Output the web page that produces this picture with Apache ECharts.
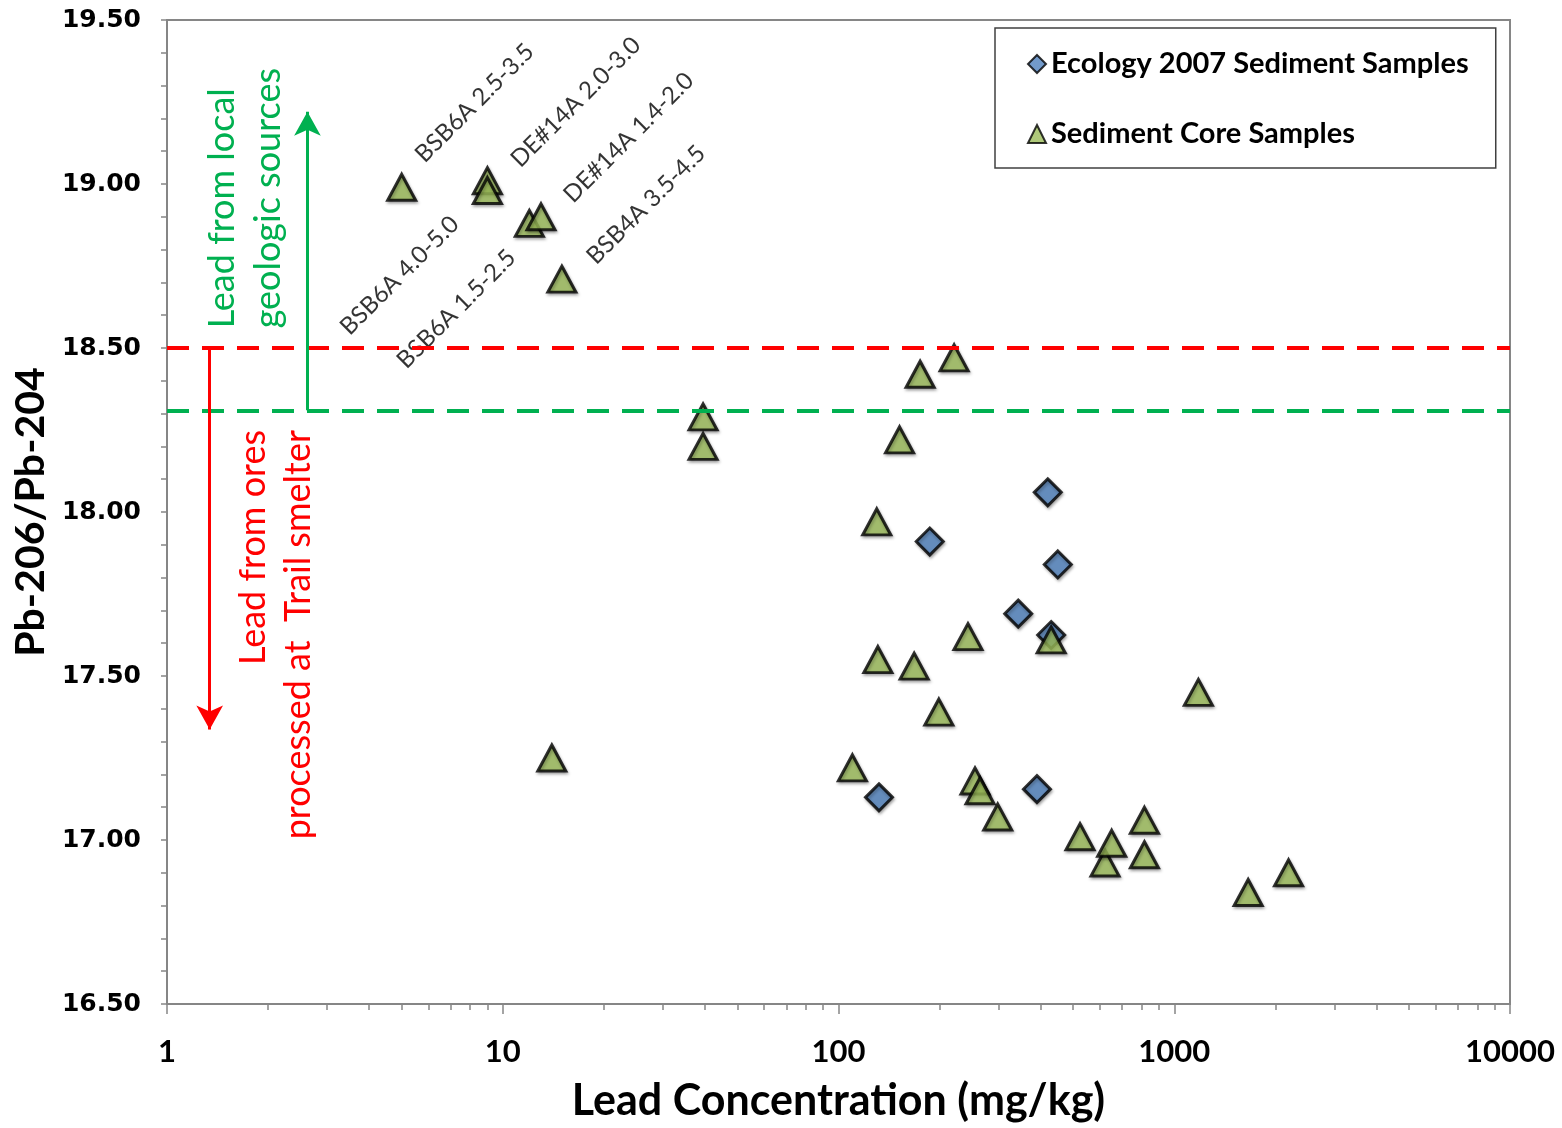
<!DOCTYPE html>
<html>
<head>
<meta charset="utf-8">
<title>Pb-206/Pb-204 vs Lead Concentration</title>
<script src="https://cdn.jsdelivr.net/npm/echarts@6/dist/echarts.min.js"></script>
<style>
  html, body { margin: 0; padding: 0; background: #ffffff; overflow: hidden; }
  #chart { width: 1562px; height: 1128px; }
</style>
</head>
<body>
<div id="chart"></div>
<script>
// Ecology 2007 sediment samples: lead (mg/kg) and Pb-206/Pb-204
const ecologyConc  = [132, 187, 343, 390, 420, 430, 450];
const ecologyRatio = [17.13, 17.91, 17.69, 17.155, 18.06, 17.625, 17.84];

// Sediment core samples: lead (mg/kg) and Pb-206/Pb-204
const coreConc  = [5, 9, 9, 12, 13, 15, 14, 39.5, 39.5, 110, 130, 131, 152, 168, 175,
                   199, 221, 243, 255, 264, 298, 430, 524, 622, 651, 815, 815, 1180, 1660, 2190];
const coreRatio = [18.99, 19.01, 18.98, 18.88, 18.90, 18.71, 17.25, 18.29, 18.20, 17.22, 17.97, 17.55, 18.22, 17.53, 18.42,
                   17.39, 18.47, 17.62, 17.18, 17.15, 17.07, 17.61, 17.01, 16.93, 16.99, 17.06, 16.955, 17.45, 16.84, 16.90];
// core/depth names for the first six core samples
const coreNames = ['BSB6A 2.5-3.5', 'DE#14A 2.0-3.0', 'BSB6A 4.0-5.0', 'BSB6A 1.5-2.5', 'DE#14A 1.4-2.0', 'BSB4A 3.5-4.5'];

// axis ranges
const ratioMin = 16.5, ratioMax = 19.5, ratioStep = 0.5;
const concMin = 1, concMax = 10000;

// source thresholds
const smelterMax = 18.5;
const localMin = 18.31;

const seriesNames = ['Ecology 2007 Sediment Samples', 'Sediment Core Samples'];

// ---- styling ----
const AXIS = '#868686';
const RED = '#ff0000';
const GREEN = '#00b050';
const BOLDFACE = "Lato, Carlito, Calibri, 'Noto Sans', sans-serif";
const HUMANIST = "Lato, Carlito, Calibri, 'Open Sans', sans-serif";

// label direction/offset (rotated frame) for the named core samples
const labelPlacement = [
  { align: 'left',  offset: [33, -8] },
  { align: 'left',  offset: [32, 7] },
  { align: 'right', offset: [-44, -2] },
  { align: 'right', offset: [-34, 9] },
  { align: 'left',  offset: [32, 6] },
  { align: 'left',  offset: [34, 7] }
];

const markerShadow = { shadowBlur: 3, shadowColor: 'rgba(0,0,0,0.35)', shadowOffsetX: 1, shadowOffsetY: 2 };

const ecologyData = ecologyConc.map((x, i) => [x, ecologyRatio[i]]);
const coreData = coreConc.map((x, i) => {
  const item = { value: [x, coreRatio[i]] };
  if (coreNames[i]) {
    item.label = {
      show: true,
      formatter: coreNames[i],
      position: 'inside',
      rotate: 45,
      align: labelPlacement[i].align,
      verticalAlign: 'middle',
      offset: labelPlacement[i].offset,
      fontFamily: HUMANIST,
      fontSize: 24,
      color: '#000'
    };
  }
  return item;
});

const chart = echarts.init(document.getElementById('chart'), null, { renderer: 'canvas' });

chart.setOption({
  animation: false,
  backgroundColor: '#ffffff',
  grid: {
    left: 167, top: 20, right: 52, bottom: 123,
    show: true, borderColor: AXIS, borderWidth: 2, backgroundColor: 'transparent'
  },
  legend: {
    orient: 'vertical',
    left: 995, top: 28,
    padding: [18, 27, 16, 32],
    itemGap: 34,
    itemWidth: 18, itemHeight: 18,
    backgroundColor: '#ffffff',
    borderColor: '#404040', borderWidth: 1.5,
    textStyle: { fontFamily: BOLDFACE, fontWeight: 'bold', fontSize: 29, color: '#000', lineHeight: 36 },
    data: [
      { name: seriesNames[0], icon: 'diamond', itemStyle: { borderWidth: 2 } },
      { name: seriesNames[1], icon: 'triangle', itemStyle: { borderWidth: 2 } }
    ]
  },
  xAxis: {
    type: 'log', logBase: 10, min: concMin, max: concMax,
    axisLine: { show: true, onZero: false, lineStyle: { color: AXIS, width: 2 } },
    axisTick: { show: true, length: 10, lineStyle: { color: AXIS, width: 1.5 } },
    minorTick: { show: true, splitNumber: 9, length: 6, lineStyle: { color: AXIS, width: 1.5 } },
    splitLine: { show: false },
    minorSplitLine: { show: false },
    axisLabel: {
      margin: 32, formatter: v => String(v),
      fontFamily: BOLDFACE, fontWeight: 'bold', fontSize: 31, color: '#000'
    },
    name: 'Lead Concentration (mg/kg)',
    nameLocation: 'middle', nameGap: 76,
    nameTextStyle: { fontFamily: BOLDFACE, fontWeight: 'bold', fontSize: 43, color: '#000' }
  },
  yAxis: {
    type: 'value', min: ratioMin, max: ratioMax, interval: ratioStep,
    axisLine: { show: true, onZero: false, lineStyle: { color: AXIS, width: 2 } },
    axisTick: { show: true, length: 6, lineStyle: { color: AXIS, width: 1.5 } },
    minorTick: { show: true, splitNumber: 5, length: 6, lineStyle: { color: AXIS, width: 1.5 } },
    splitLine: { show: false },
    axisLabel: {
      margin: 26, formatter: v => v.toFixed(2),
      fontFamily: "'DejaVu Sans', Verdana, sans-serif", fontWeight: 'bold', fontSize: 25, color: '#000'
    },
    name: 'Pb-206/Pb-204',
    nameLocation: 'middle', nameGap: 112,
    nameTextStyle: { fontFamily: BOLDFACE, fontWeight: 'bold', fontSize: 41, color: '#000' }
  },
  series: [
    {
      name: seriesNames[0],
      type: 'scatter',
      symbol: 'diamond',
      symbolSize: [27, 27],
      itemStyle: Object.assign({ color: '#4f81bd', borderColor: '#000', borderWidth: 3 }, markerShadow),
      data: ecologyData,
      z: 3
    },
    {
      name: seriesNames[1],
      type: 'scatter',
      symbol: 'triangle',
      symbolSize: [28, 26],
      itemStyle: Object.assign({ color: '#9bbb59', borderColor: '#000', borderWidth: 3 }, markerShadow),
      data: coreData,
      z: 4,
      markLine: {
        silent: true,
        symbol: 'none',
        label: { show: false },
        data: [
          { yAxis: smelterMax, lineStyle: { color: RED, type: [22, 13], width: 4 } },
          { yAxis: localMin, lineStyle: { color: GREEN, type: [22, 13], width: 4 } },
          [
            { coord: [1.34, smelterMax], symbol: 'none', lineStyle: { color: RED, type: 'solid', width: 3 } },
            { coord: [1.34, 17.337], symbol: 'arrow', symbolSize: [20, 24] }
          ],
          [
            { coord: [2.62, localMin], symbol: 'none', lineStyle: { color: GREEN, type: 'solid', width: 3 } },
            { coord: [2.62, 19.22], symbol: 'arrow', symbolSize: [20, 24] }
          ]
        ]
      },
      markPoint: {
        silent: true,
        symbol: 'rect',
        symbolSize: 1,
        itemStyle: { color: 'transparent' },
        label: {
          show: true, position: 'inside', rotate: 90, verticalAlign: 'middle',
          fontFamily: HUMANIST, fontSize: 36
        },
        data: [
          { coord: [1.458, 18.56], label: { formatter: 'Lead from local', color: GREEN, align: 'left' } },
          { coord: [2.0, 18.56], label: { formatter: 'geologic sources', color: GREEN, align: 'left' } },
          { coord: [1.804, 18.25], label: { formatter: 'Lead from ores', color: RED, align: 'right' } },
          { coord: [2.456, 18.25], label: { formatter: 'processed at  Trail smelter', color: RED, align: 'right' } }
        ]
      }
    }
  ]
});
</script>
</body>
</html>
